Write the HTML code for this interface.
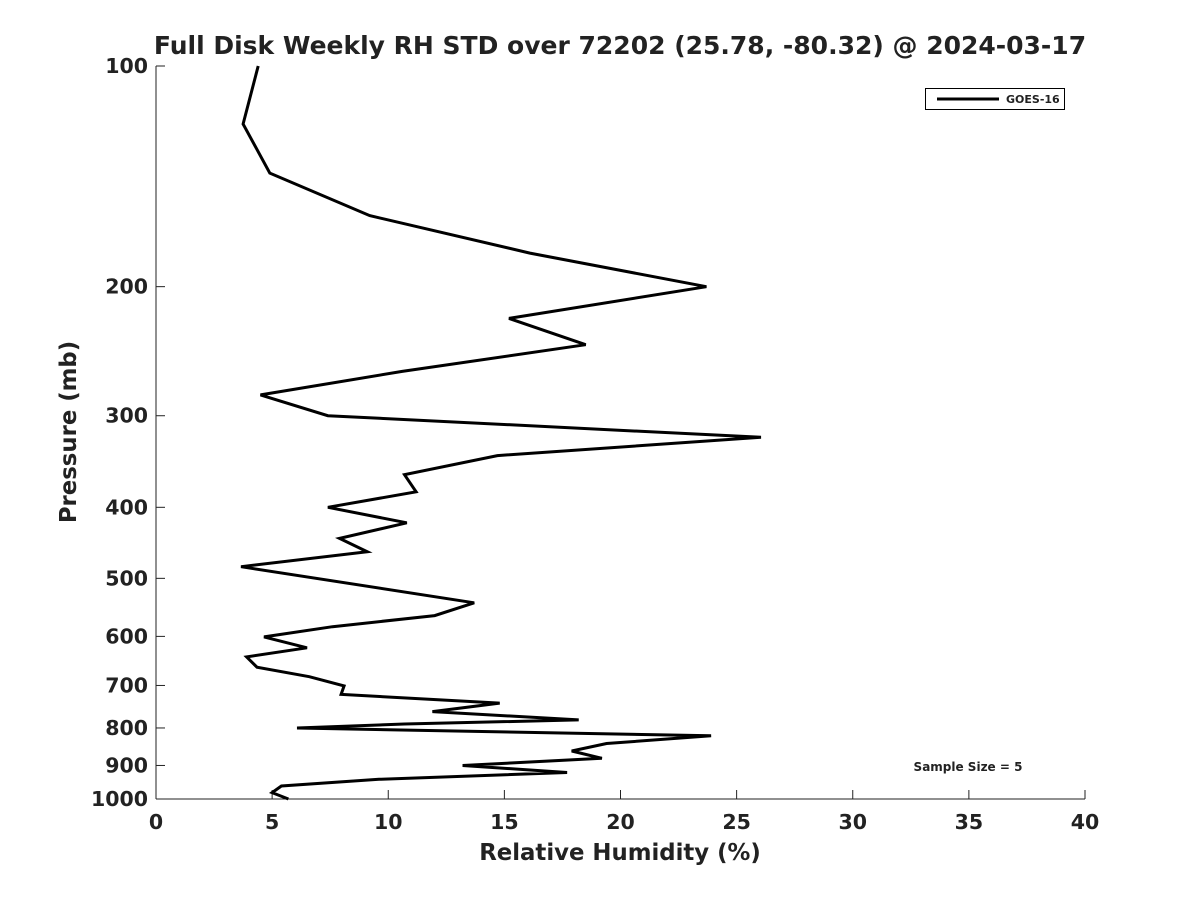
<!DOCTYPE html>
<html><head><meta charset="utf-8"><style>
body{margin:0;background:#fff;}
svg text{font-family:"DejaVu Sans","Liberation Sans",sans-serif;font-weight:bold;fill:#222;}
</style></head><body>
<svg id="chart" width="1200" height="900">
<rect width="1200" height="900" fill="#fff"/>
<text x="620" y="54" font-size="25" text-anchor="middle">Full Disk Weekly RH STD over 72202 (25.78, -80.32) @ 2024-03-17</text>
<g id="axes"></g>
<polyline id="line" fill="none" stroke="#000" stroke-width="3" stroke-linejoin="miter"/>
<g>
<rect x="925.5" y="88.5" width="139" height="21" fill="#fff" stroke="#000" stroke-width="1"/>
<line x1="937" y1="99" x2="999" y2="99" stroke="#000" stroke-width="3"/>
<text x="1006" y="103" font-size="11">GOES-16</text>
</g>
<text x="968" y="771" font-size="12" text-anchor="middle">Sample Size = 5</text>
<text x="620" y="860" font-size="22.8" text-anchor="middle">Relative Humidity (%)</text>
<text transform="translate(76,432) rotate(-90)" font-size="22.8" text-anchor="middle">Pressure (mb)</text>
</svg>
<script>
const rhValues=[4.4,3.75,4.9,9.2,16.1,23.7,15.2,18.5,10.6,4.5,7.4,26.05,14.7,10.7,11.2,7.4,10.8,7.9,9.1,3.66,13.7,12.0,7.6,4.65,6.5,3.9,4.35,6.6,8.1,7.97,14.8,11.9,18.2,10.7,6.07,23.9,19.4,17.9,19.2,13.2,17.7,9.6,5.4,5.0,5.7];
const pressures=[100,120,140,160,180,200,221,240,261,281,300,321,340,361,381,400,420,441,460,482,540,562,582,601,622,640,661,681,701,720,740,760,780,790,800,820,840,860,880,900,920,940,960,980,1000];
const xTicks=[0,5,10,15,20,25,30,35,40];
const yTicks=[100,200,300,400,500,600,700,800,900,1000];
const X0=156,X1=1085,Y0=66,Y1=799;
const xs=v=>X0+(v/40)*(X1-X0);
const ys=p=>Y0+(Math.log10(p)-2)*(Y1-Y0);
const NS="http://www.w3.org/2000/svg";
const ax=document.getElementById('axes');
function mk(t,a){const e=document.createElementNS(NS,t);for(const k in a)e.setAttribute(k,a[k]);ax.appendChild(e);return e;}
let l=mk('line',{x1:X0,y1:Y0,x2:X0,y2:Y1,stroke:'#222','stroke-width':1});


l=mk('line',{x1:X0,y1:Y1,x2:X1,y2:Y1,stroke:'#222','stroke-width':1});


xTicks.forEach(v=>{const x=xs(v);mk('line',{x1:x,y1:Y1,x2:x,y2:Y1-9,stroke:'#222'});
const t=mk('text',{x:x,y:Y1+30,'font-size':20.5,'text-anchor':'middle'});t.textContent=v;

});
yTicks.forEach(p=>{const y=ys(p);mk('line',{x1:X0,y1:y,x2:X0+9,y2:y,stroke:'#222'});
const t=mk('text',{x:X0-8,y:y+7,'font-size':20.5,'text-anchor':'end'});t.textContent=p;

});
document.getElementById('line').setAttribute('points',rhValues.map((v,i)=>xs(v).toFixed(1)+','+ys(pressures[i]).toFixed(1)).join(' '));
</script>
</body></html>
